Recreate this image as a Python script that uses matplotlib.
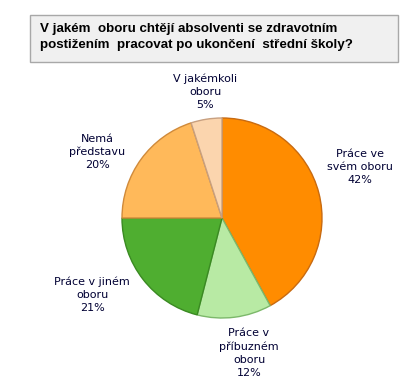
import matplotlib
matplotlib.use("Agg")
import matplotlib.pyplot as plt
from matplotlib.patches import Rectangle

title = "V jakém  oboru chtějí absolventi se zdravotním\npostižením  pracovat po ukončení  střední školy?"
labels = ["Práce ve\nsvém oboru", "Práce v\npříbuzném\noboru", "Práce v jiném\noboru",
          "Nemá\npředstavu", "V jakémkoli\noboru"]
values = [42, 12, 21, 20, 5]
colors = ["#ff8c00", "#b8eaa4", "#4fae30", "#ffb95a", "#fbd5ae"]
edges = ["#c86a10", "#7cb86a", "#3a8a22", "#d08a3a", "#c8a080"]
# label centres (data units, pie radius = 1)
label_pos = [(1.38, 0.51), (0.27, -1.35), (-1.30, -0.77), (-1.25, 0.66), (-0.17, 1.26)]

W, H = 416, 388
fig = plt.figure(figsize=(W / 100, H / 100), dpi=100)
fig.patch.set_facecolor("white")

# title box
fig.patches.append(Rectangle((30 / W, 1 - 62 / H), 368 / W, 47 / H, transform=fig.transFigure,
                             facecolor="#f0f0f0", edgecolor="#a8a8a8", linewidth=1))
fig.text(40 / W, 1 - 37 / H, title, fontsize=9.6, fontweight="bold", color="#000000",
         family="Liberation Sans", va="center", ha="left", linespacing=1.45)

cx, cy, r = 222, 218, 100
ax = fig.add_axes([(cx - r) / W, 1 - (cy + r) / H, 2 * r / W, 2 * r / H])
wedges, _ = ax.pie(values, colors=colors, startangle=90, counterclock=False,
                   wedgeprops=dict(linewidth=1))
for w, ec in zip(wedges, edges):
    w.set_edgecolor(ec)

for (x, y), lab, v in zip(label_pos, labels, values):
    ax.text(x, y, f"{lab}\n{v}%", ha="center", va="center", fontsize=8,
            color="#000033", linespacing=1.35)

ax.set_xlim(-1, 1)
ax.set_ylim(-1, 1)
ax.set_aspect("equal")
ax.axis("off")

fig.savefig("out.png", dpi=100)
